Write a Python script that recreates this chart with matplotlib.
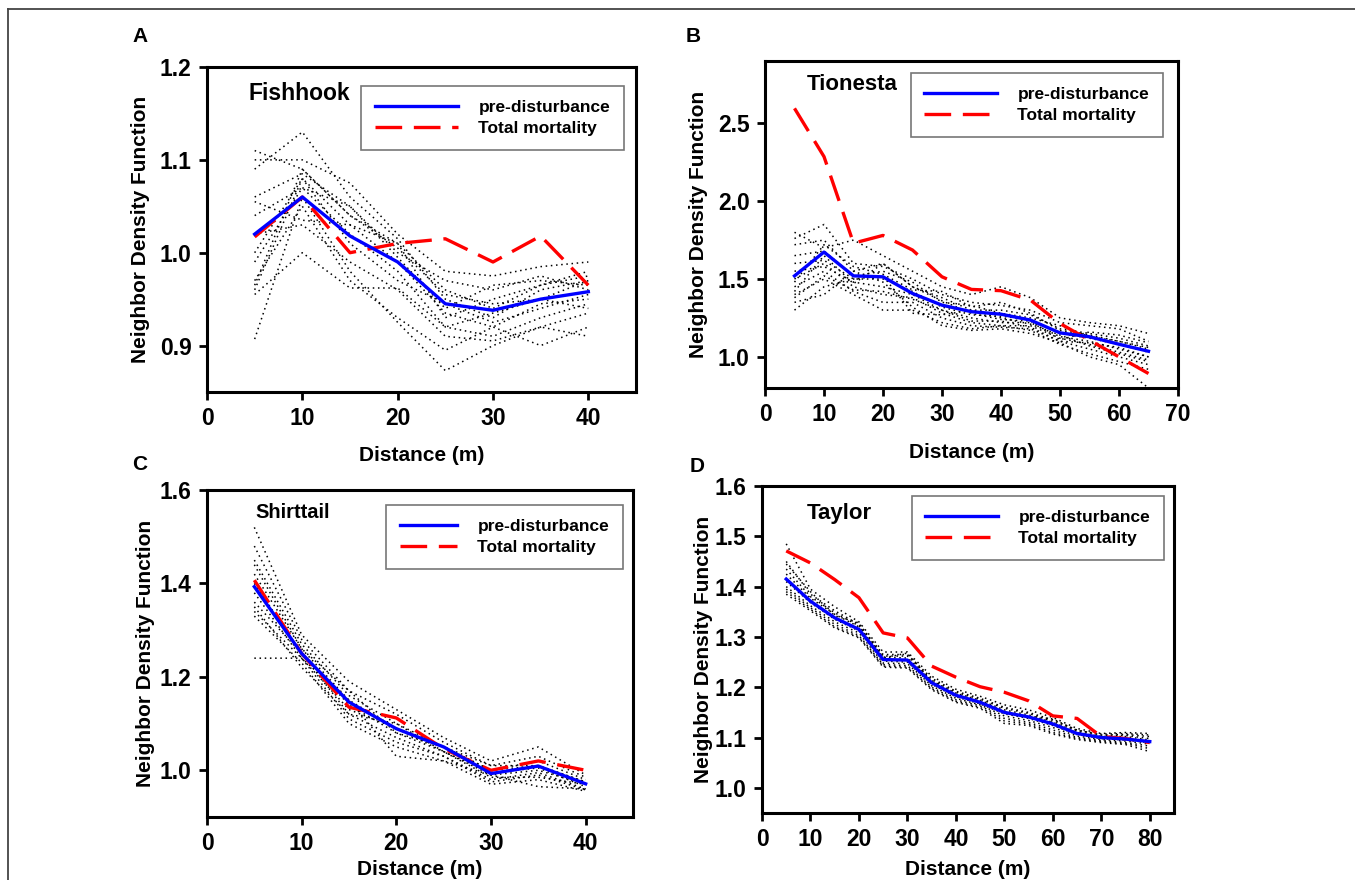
import matplotlib
matplotlib.use("Agg")
import matplotlib.pyplot as plt
from matplotlib.lines import Line2D

plt.rcParams['font.family'] = ['Liberation Sans', 'DejaVu Sans']
plt.rcParams['font.weight'] = 'bold'

# ---- Panel A: Fishhook ----
fish_x = [5, 10, 15, 20, 25, 30, 35, 40]
fish_pre = [1.02, 1.06, 1.018, 0.99, 0.945, 0.938, 0.95, 0.958]
fish_mort = [1.017, 1.06, 1.0, 1.01, 1.015, 0.99, 1.018, 0.965]
fish_sims = [
    [1.11, 1.09, 1.04, 1.01, 0.96, 0.94, 0.965, 0.975],
    [1.10, 1.10, 1.075, 1.02, 0.98, 0.975, 0.985, 0.99],
    [1.09, 1.13, 1.06, 1.015, 0.95, 0.93, 0.96, 0.97],
    [1.06, 1.085, 1.05, 1.0, 0.97, 0.96, 0.975, 0.96],
    [1.055, 1.035, 1.03, 0.99, 0.935, 0.92, 0.945, 0.95],
    [1.04, 1.07, 1.02, 0.98, 0.92, 0.91, 0.93, 0.945],
    [1.02, 1.03, 0.99, 0.96, 0.91, 0.905, 0.92, 0.935],
    [1.0, 1.08, 1.01, 0.97, 0.945, 0.925, 0.94, 0.955],
    [0.97, 1.05, 0.97, 0.93, 0.895, 0.92, 0.90, 0.92],
    [0.965, 1.09, 1.04, 1.005, 0.955, 0.945, 0.95, 0.97],
    [0.955, 1.0, 0.962, 0.962, 0.92, 0.935, 0.95, 0.94],
    [0.907, 1.06, 0.98, 0.925, 0.873, 0.9, 0.92, 0.91],
    [0.96, 1.08, 1.03, 1.01, 0.93, 0.95, 0.965, 0.98],
    [0.99, 1.07, 1.05, 0.995, 0.94, 0.965, 0.97, 0.965],
]

# ---- Panel B: Tionesta ----
tio_x = [5, 10, 15, 20, 25, 30, 35, 40, 45, 50, 55, 60, 65]
tio_pre = [1.52, 1.673, 1.52, 1.514, 1.407, 1.332, 1.29, 1.274, 1.236, 1.154, 1.129, 1.081, 1.036]
tio_mort = [2.596, 2.286, 1.73, 1.78, 1.686, 1.514, 1.433, 1.425, 1.364, 1.214, 1.107, 1.0, 0.893]
tio_sims = [
    [1.80, 1.70, 1.75, 1.65, 1.55, 1.45, 1.40, 1.45, 1.38, 1.25, 1.22, 1.20, 1.15],
    [1.76, 1.85, 1.60, 1.58, 1.50, 1.40, 1.35, 1.33, 1.30, 1.22, 1.20, 1.18, 1.10],
    [1.72, 1.75, 1.55, 1.60, 1.45, 1.38, 1.30, 1.30, 1.27, 1.18, 1.15, 1.12, 1.07],
    [1.65, 1.68, 1.52, 1.55, 1.48, 1.35, 1.33, 1.28, 1.25, 1.20, 1.13, 1.10, 1.05],
    [1.60, 1.62, 1.50, 1.50, 1.42, 1.32, 1.27, 1.26, 1.24, 1.15, 1.12, 1.08, 1.03],
    [1.55, 1.58, 1.48, 1.45, 1.40, 1.30, 1.25, 1.22, 1.22, 1.13, 1.10, 1.05, 1.00],
    [1.50, 1.60, 1.45, 1.40, 1.38, 1.28, 1.22, 1.20, 1.20, 1.12, 1.08, 1.03, 0.98],
    [1.45, 1.55, 1.42, 1.35, 1.35, 1.25, 1.20, 1.19, 1.18, 1.10, 1.05, 1.00, 0.95],
    [1.40, 1.50, 1.40, 1.30, 1.30, 1.22, 1.18, 1.20, 1.17, 1.08, 1.02, 0.97, 0.92],
    [1.35, 1.40, 1.55, 1.48, 1.32, 1.20, 1.17, 1.18, 1.15, 1.09, 1.00, 0.95, 0.80],
    [1.30, 1.45, 1.50, 1.52, 1.28, 1.27, 1.30, 1.25, 1.21, 1.14, 1.07, 1.02, 0.97],
    [1.42, 1.65, 1.47, 1.60, 1.45, 1.36, 1.28, 1.24, 1.23, 1.11, 1.16, 1.14, 1.09],
    [1.48, 1.72, 1.58, 1.53, 1.43, 1.42, 1.32, 1.35, 1.28, 1.17, 1.14, 1.10, 1.06],
    [1.38, 1.52, 1.43, 1.42, 1.37, 1.30, 1.23, 1.23, 1.19, 1.10, 1.09, 1.06, 1.00],
]

# ---- Panel C: Shirttail ----
shirt_x = [5, 10, 15, 20, 25, 30, 35, 40]
shirt_pre = [1.393, 1.25, 1.146, 1.089, 1.05, 0.993, 1.009, 0.971]
shirt_mort = [1.407, 1.25, 1.135, 1.112, 1.046, 1.0, 1.02, 1.0]
shirt_sims = [
    [1.52, 1.29, 1.19, 1.13, 1.07, 1.02, 1.05, 0.99],
    [1.48, 1.28, 1.17, 1.12, 1.06, 1.01, 1.03, 0.985],
    [1.45, 1.27, 1.16, 1.10, 1.05, 1.00, 1.02, 0.98],
    [1.42, 1.26, 1.15, 1.09, 1.05, 1.00, 1.01, 0.975],
    [1.40, 1.25, 1.14, 1.08, 1.04, 0.99, 1.00, 0.97],
    [1.38, 1.24, 1.13, 1.09, 1.04, 0.995, 1.005, 0.965],
    [1.36, 1.25, 1.12, 1.07, 1.03, 0.98, 0.995, 0.96],
    [1.34, 1.24, 1.11, 1.06, 1.03, 0.975, 0.99, 0.958],
    [1.33, 1.23, 1.10, 1.05, 1.02, 0.97, 0.98, 0.955],
    [1.24, 1.24, 1.15, 1.03, 1.02, 0.99, 0.965, 0.96],
    [1.44, 1.26, 1.17, 1.08, 1.05, 1.01, 1.01, 0.975],
    [1.35, 1.22, 1.12, 1.10, 1.04, 0.985, 0.985, 0.97],
]

# ---- Panel D: Taylor ----
tay_x = [5, 10, 15, 20, 25, 30, 35, 40, 45, 50, 55, 60, 65, 70, 75, 80]
tay_pre = [1.415, 1.371, 1.338, 1.315, 1.255, 1.254, 1.209, 1.184, 1.170, 1.150,
           1.141, 1.127, 1.108, 1.100, 1.097, 1.092]
tay_mort = [1.471, 1.447, 1.414, 1.378, 1.308, 1.298, 1.242, 1.220, 1.201, 1.190,
            1.173, 1.143, 1.138, 1.102, 1.098, 1.090]
tay_sims = [
    [1.485, 1.395, 1.360, 1.330, 1.270, 1.270, 1.222, 1.196, 1.182, 1.165, 1.155, 1.140, 1.118, 1.108, 1.110, 1.108],
    [1.450, 1.385, 1.352, 1.325, 1.265, 1.265, 1.218, 1.192, 1.178, 1.160, 1.150, 1.135, 1.115, 1.105, 1.106, 1.102],
    [1.435, 1.380, 1.348, 1.322, 1.262, 1.262, 1.215, 1.190, 1.176, 1.158, 1.148, 1.132, 1.112, 1.103, 1.104, 1.098],
    [1.425, 1.377, 1.345, 1.320, 1.260, 1.258, 1.213, 1.188, 1.174, 1.155, 1.145, 1.130, 1.110, 1.102, 1.102, 1.095],
    [1.410, 1.368, 1.335, 1.312, 1.252, 1.250, 1.206, 1.181, 1.167, 1.147, 1.138, 1.124, 1.106, 1.098, 1.095, 1.090],
    [1.400, 1.362, 1.330, 1.308, 1.248, 1.247, 1.203, 1.178, 1.165, 1.143, 1.134, 1.120, 1.103, 1.096, 1.093, 1.087],
    [1.395, 1.358, 1.325, 1.303, 1.245, 1.243, 1.200, 1.175, 1.163, 1.138, 1.130, 1.115, 1.100, 1.094, 1.090, 1.083],
    [1.390, 1.355, 1.320, 1.300, 1.242, 1.240, 1.197, 1.172, 1.160, 1.133, 1.127, 1.110, 1.098, 1.092, 1.088, 1.078],
    [1.385, 1.352, 1.318, 1.298, 1.240, 1.238, 1.195, 1.170, 1.158, 1.128, 1.124, 1.107, 1.096, 1.090, 1.086, 1.072],
    [1.445, 1.390, 1.342, 1.328, 1.258, 1.268, 1.211, 1.186, 1.172, 1.152, 1.142, 1.137, 1.114, 1.107, 1.108, 1.105],
]

W, H = 1355, 880


def px_axes(fig, left, top, right, bottom):
    return fig.add_axes([left / W, 1 - bottom / H, (right - left) / W, (bottom - top) / H])


def draw_panel(ax, x, sims, pre, mort, site, site_size, site_pos, xlim, ylim, yticks, xticks,
               leg_anchor, handlelen, xlab_y, ylab_x):
    for s in sims:
        ax.plot(x, s, color='black', lw=1.1, linestyle=(0, (1, 2.4)))
    ax.plot(x, mort, color='#ff0000', lw=2.4, dashes=(8, 3.5), label='Total mortality')
    ax.plot(x, pre, color='#0000ff', lw=2.4, label='pre-disturbance')

    ax.set_xlim(*xlim)
    ax.set_ylim(*ylim)
    ax.set_xticks(xticks)
    ax.set_yticks(yticks)
    ax.set_yticklabels([f"{v:.1f}" for v in yticks])
    ax.tick_params(direction='out', length=6, width=2, labelsize=16.5, pad=5)
    for lab in ax.get_xticklabels() + ax.get_yticklabels():
        lab.set_fontweight('bold')
    for sp in ax.spines.values():
        sp.set_linewidth(2.2)

    ax.set_xlabel('Distance (m)', fontsize=15, fontweight='bold')
    ax.xaxis.label.set_verticalalignment('center')
    ax.xaxis.set_label_coords(0.5, xlab_y)
    ax.set_ylabel('Neighbor Density Function', fontsize=15, fontweight='bold')
    ax.yaxis.label.set_verticalalignment('center')
    ax.yaxis.set_label_coords(ylab_x, 0.5)

    ax.text(site_pos[0], site_pos[1], site, transform=ax.transAxes, fontsize=site_size,
            fontweight='bold', va='center', ha='left')

    handles, labels = ax.get_legend_handles_labels()
    leg = ax.legend(handles[::-1], labels[::-1], loc='upper right', bbox_to_anchor=leg_anchor,
                    fontsize=12.5, frameon=True, fancybox=False, handlelength=handlelen,
                    handletextpad=1.15, labelspacing=0.35, borderpad=0.8, borderaxespad=0)
    leg.get_frame().set_edgecolor('#555555')
    leg.get_frame().set_linewidth(1.2)
    for t in leg.get_texts():
        t.set_fontweight('bold')


fig = plt.figure(figsize=(W / 100, H / 100), dpi=100)

axA = px_axes(fig, 207, 67, 636, 392)
draw_panel(axA, fish_x, fish_sims, fish_pre, fish_mort, 'Fishhook', 16.5, (0.0956, 0.92),
           (0, 45), (0.85, 1.2), [0.9, 1.0, 1.1, 1.2], [0, 10, 20, 30, 40],
           (0.972, 0.9415), 4.8, -0.194, -0.156)

axB = px_axes(fig, 765, 61, 1178, 388)
draw_panel(axB, tio_x, tio_sims, tio_pre, tio_mort, 'Tionesta', 16, (0.1017, 0.927),
           (0, 70), (0.8, 2.9), [1.0, 1.5, 2.0, 2.5], [0, 10, 20, 30, 40, 50, 60, 70],
           (0.9637, 0.963), 4.2, -0.196, -0.162)

axC = px_axes(fig, 207, 490, 633, 817)
draw_panel(axC, shirt_x, shirt_sims, shirt_pre, shirt_mort, 'Shirttail', 14.5, (0.1127, 0.93),
           (0, 45), (0.9, 1.6), [1.0, 1.2, 1.4, 1.6], [0, 10, 20, 30, 40],
           (0.9765, 0.954), 3.3, -0.16, -0.1455)

axD = px_axes(fig, 762, 486, 1174, 813)
draw_panel(axD, tay_x, tay_sims, tay_pre, tay_mort, 'Taylor', 16, (0.109, 0.917),
           (0, 85), (0.95, 1.6), [1.0, 1.1, 1.2, 1.3, 1.4, 1.5, 1.6],
           [0, 10, 20, 30, 40, 50, 60, 70, 80],
           (0.9757, 0.969), 4.2, -0.174, -0.143)

# panel letters
for letter, x, y in [('A', 140, 37), ('B', 693, 36), ('C', 140, 464), ('D', 697, 466)]:
    fig.text(x / W, 1 - y / H, letter, fontsize=15, fontweight='bold', ha='center', va='center')

# outer frame (top and left edges visible)
fig.add_artist(Line2D([8 / W, 1], [1 - 9.5 / H, 1 - 9.5 / H], color='#444444', lw=1.3))
fig.add_artist(Line2D([8 / W, 8 / W], [0, 1 - 9.5 / H], color='#444444', lw=1.3))

fig.savefig('out.png', dpi=100)
